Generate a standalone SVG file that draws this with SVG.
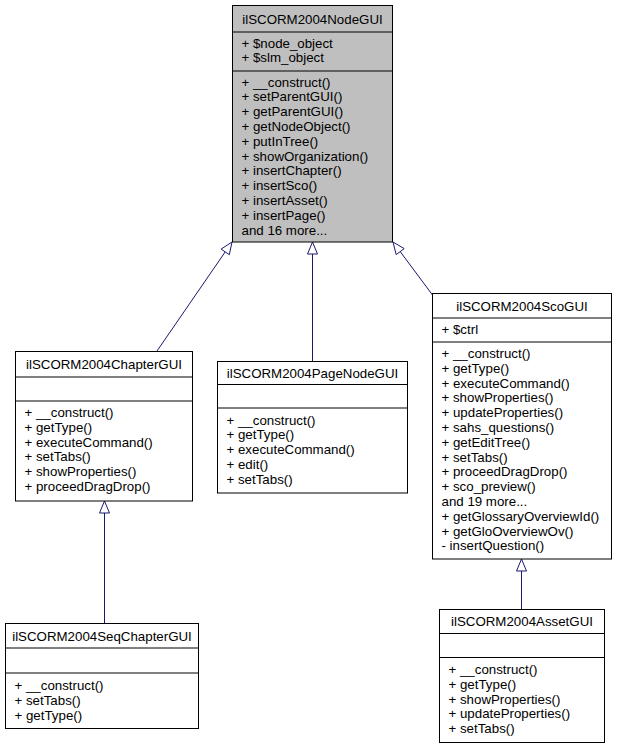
<svg xmlns="http://www.w3.org/2000/svg" width="617" height="749" viewBox="0 0 617 749">
<style>
text{font-family:"Liberation Sans",Arial,Helvetica,sans-serif;font-size:13.3px;fill:#000}
.t{text-anchor:middle}
.box{fill:#fff;stroke:#000;stroke-width:1}
.boxg{fill:#bfbfbf;stroke:#000;stroke-width:1}
.sep{stroke:#000;stroke-width:1}
.edge{stroke:#191970;stroke-width:1;fill:none}
.ah{stroke:#191970;stroke-width:1;fill:#fff}
</style>
<rect width="617" height="749" fill="#fff"/>
<g id="connectors">
<path class="edge" d="M157,351 L225.2,251.9"/>
<polygon class="ah" points="232,242 229.3,254.7 221.1,249.1"/>
<path class="edge" d="M312.5,361 L312.5,254"/>
<polygon class="ah" points="312.5,242 317.5,254 307.5,254"/>
<path class="edge" d="M432.5,295 L400.2,251.6"/>
<polygon class="ah" points="393,242 404.2,248.6 396.2,254.6"/>
<path class="edge" d="M104.5,623 L104.5,513"/>
<polygon class="ah" points="104.5,501 109.5,513 99.5,513"/>
<path class="edge" d="M521.5,609 L521.5,571"/>
<polygon class="ah" points="521.5,559 526.5,571 516.5,571"/>
</g>
<g id="ilSCORM2004NodeGUI">
<rect class="boxg" x="232.5" y="5.5" width="160" height="236.5"/>
<line class="sep" x1="232.5" y1="32" x2="392.5" y2="32"/>
<line class="sep" x1="232.5" y1="71" x2="392.5" y2="71"/>
<text class="t" x="312.5" y="23.5">ilSCORM2004NodeGUI</text>
<text x="241.5" y="47.5">+ $node_object</text>
<text x="241.5" y="62.3">+ $slm_object</text>
<text x="241.5" y="86.5">+ __construct()</text>
<text x="241.5" y="101.3">+ setParentGUI()</text>
<text x="241.5" y="116.1">+ getParentGUI()</text>
<text x="241.5" y="130.9">+ getNodeObject()</text>
<text x="241.5" y="145.7">+ putInTree()</text>
<text x="241.5" y="160.5">+ showOrganization()</text>
<text x="241.5" y="175.3">+ insertChapter()</text>
<text x="241.5" y="190.1">+ insertSco()</text>
<text x="241.5" y="204.9">+ insertAsset()</text>
<text x="241.5" y="219.7">+ insertPage()</text>
<text x="241.5" y="234.5">and 16 more...</text>
</g>
<g id="ilSCORM2004ChapterGUI">
<rect class="box" x="15.5" y="351.5" width="177" height="149.5"/>
<line class="sep" x1="15.5" y1="377" x2="192.5" y2="377"/>
<line class="sep" x1="15.5" y1="401" x2="192.5" y2="401"/>
<text class="t" x="104" y="369">ilSCORM2004ChapterGUI</text>
<text x="24.5" y="417">+ __construct()</text>
<text x="24.5" y="431.8">+ getType()</text>
<text x="24.5" y="446.6">+ executeCommand()</text>
<text x="24.5" y="461.4">+ setTabs()</text>
<text x="24.5" y="476.2">+ showProperties()</text>
<text x="24.5" y="491">+ proceedDragDrop()</text>
</g>
<g id="ilSCORM2004PageNodeGUI">
<rect class="box" x="217.5" y="361.5" width="190" height="131.5"/>
<line class="sep" x1="217.5" y1="384.5" x2="407.5" y2="384.5"/>
<line class="sep" x1="217.5" y1="408" x2="407.5" y2="408"/>
<text class="t" x="312.5" y="377.5">ilSCORM2004PageNodeGUI</text>
<text x="226.5" y="424.5">+ __construct()</text>
<text x="226.5" y="439.3">+ getType()</text>
<text x="226.5" y="454.1">+ executeCommand()</text>
<text x="226.5" y="468.9">+ edit()</text>
<text x="226.5" y="483.7">+ setTabs()</text>
</g>
<g id="ilSCORM2004ScoGUI">
<rect class="box" x="432.5" y="293.5" width="179" height="265.5"/>
<line class="sep" x1="432.5" y1="318" x2="611.5" y2="318"/>
<line class="sep" x1="432.5" y1="342" x2="611.5" y2="342"/>
<text class="t" x="522" y="310.5">ilSCORM2004ScoGUI</text>
<text x="441.5" y="334">+ $ctrl</text>
<text x="441.5" y="358">+ __construct()</text>
<text x="441.5" y="372.8">+ getType()</text>
<text x="441.5" y="387.6">+ executeCommand()</text>
<text x="441.5" y="402.4">+ showProperties()</text>
<text x="441.5" y="417.2">+ updateProperties()</text>
<text x="441.5" y="432">+ sahs_questions()</text>
<text x="441.5" y="446.8">+ getEditTree()</text>
<text x="441.5" y="461.6">+ setTabs()</text>
<text x="441.5" y="476.4">+ proceedDragDrop()</text>
<text x="441.5" y="491.2">+ sco_preview()</text>
<text x="441.5" y="506">and 19 more...</text>
<text x="441.5" y="520.8">+ getGlossaryOverviewId()</text>
<text x="441.5" y="535.6">+ getGloOverviewOv()</text>
<text x="441.5" y="550.4">- insertQuestion()</text>
</g>
<g id="ilSCORM2004SeqChapterGUI">
<rect class="box" x="5.5" y="623.5" width="193" height="105"/>
<line class="sep" x1="5.5" y1="648" x2="198.5" y2="648"/>
<line class="sep" x1="5.5" y1="673" x2="198.5" y2="673"/>
<text class="t" x="102" y="640.5">ilSCORM2004SeqChapterGUI</text>
<text x="14.5" y="690">+ __construct()</text>
<text x="14.5" y="704.8">+ setTabs()</text>
<text x="14.5" y="719.6">+ getType()</text>
</g>
<g id="ilSCORM2004AssetGUI">
<rect class="box" x="439.5" y="609.5" width="165" height="133"/>
<line class="sep" x1="439.5" y1="633.5" x2="604.5" y2="633.5"/>
<line class="sep" x1="439.5" y1="657.5" x2="604.5" y2="657.5"/>
<text class="t" x="522" y="626">ilSCORM2004AssetGUI</text>
<text x="448.5" y="674">+ __construct()</text>
<text x="448.5" y="688.8">+ getType()</text>
<text x="448.5" y="703.6">+ showProperties()</text>
<text x="448.5" y="718.4">+ updateProperties()</text>
<text x="448.5" y="733.2">+ setTabs()</text>
</g>
</svg>
